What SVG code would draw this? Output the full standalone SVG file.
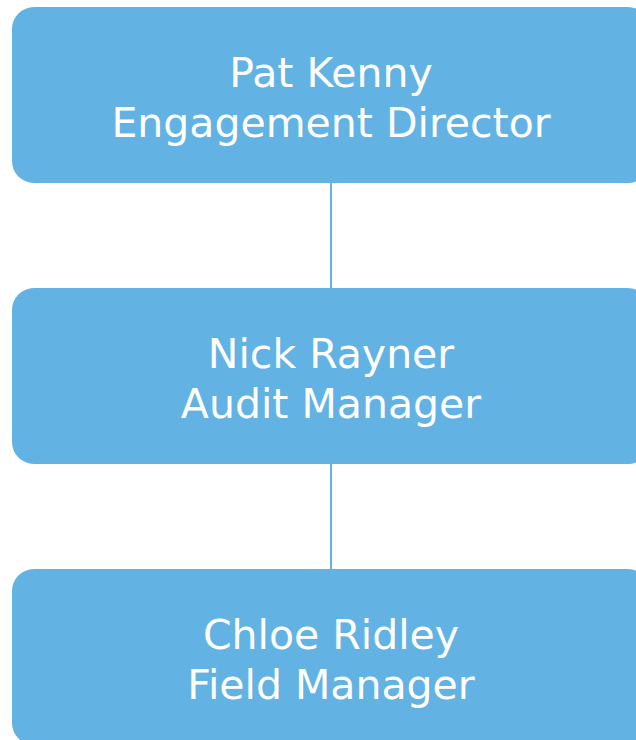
<svg xmlns="http://www.w3.org/2000/svg" width="636" height="740" viewBox="0 0 636 740">
<style>
.box{fill:#62B3E3}
.t{font-family:"DejaVu Sans",Verdana,sans-serif;font-size:41px;fill:#ffffff;text-anchor:middle}
.c{stroke:#62B3E3;stroke-width:2;fill:none}
</style>
<rect width="636" height="740" fill="#ffffff"/>
<g id="connectors">
<line class="c" x1="331" y1="183" x2="331" y2="288"/>
<line class="c" x1="331" y1="464" x2="331" y2="569"/>
</g>
<g id="pat-kenny">
<rect class="box" x="12" y="7" width="638" height="176" rx="22"/>
<text class="t" x="331" y="87">Pat Kenny</text>
<text class="t" x="331" y="137">Engagement Director</text>
</g>
<g id="nick-rayner">
<rect class="box" x="12" y="288" width="638" height="176" rx="22"/>
<text class="t" x="331" y="368">Nick Rayner</text>
<text class="t" x="331" y="418">Audit Manager</text>
</g>
<g id="chloe-ridley">
<rect class="box" x="12" y="569" width="638" height="176" rx="22"/>
<text class="t" x="331" y="649">Chloe Ridley</text>
<text class="t" x="331" y="699">Field Manager</text>
</g>
</svg>
